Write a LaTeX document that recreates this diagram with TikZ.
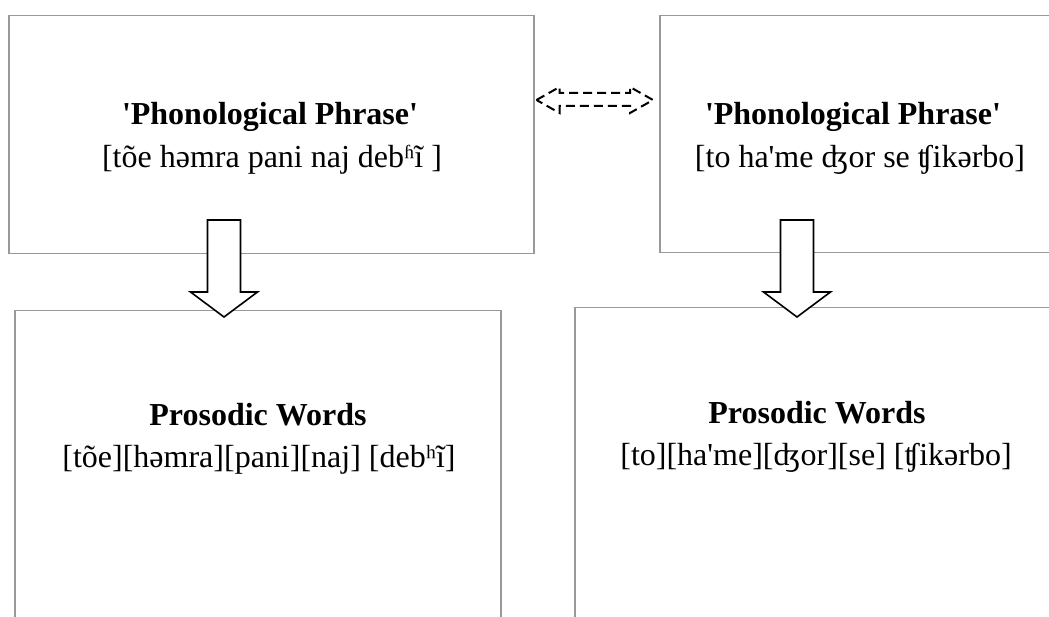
\documentclass[tikz,border=0pt]{standalone}
\usepackage{fontspec}
\setmainfont{Liberation Serif}[Ligatures=TeXOff]
\usetikzlibrary{calc}
\begin{document}
\begin{tikzpicture}[x=1pt,y=-1pt,
  frame/.style={draw=black!40,line width=1.5pt,fill=none,inner sep=0pt,
                anchor=north west},
  head/.style={anchor=base,font=\fontsize{32}{40}\selectfont\bfseries,inner sep=0pt},
  body/.style={anchor=base,font=\fontsize{32}{40}\selectfont,inner sep=0pt},
  blockarrow/.style={draw=black,fill=white,line width=1.6pt,line join=miter},
  linkarrow/.style={draw=black,line width=2pt,dash pattern=on 9pt off 5pt},
  downarrow/.pic={
    % shaft 33 wide, head 67 wide, total length 97
    \path[blockarrow] (-16.5,0) -- (16.5,0) -- (16.5,72) -- (33.5,72)
      -- (0,97) -- (-33.5,72) -- (-16.5,72) -- cycle;
  }]
\useasboundingbox (0,0) rectangle (1049,617);
\clip (0,0) rectangle (1049,617);
\fill[white] (0,0) rectangle (1049,617);

% the four frames
\node[frame,minimum width=525pt,minimum height=238pt] (tl) at (8,15) {};
\node[frame,minimum width=392pt,minimum height=237pt] (tr) at (659,15) {};
\node[frame,minimum width=486pt,minimum height=330pt] (bl) at (14,310) {};
\node[frame,minimum width=484pt,minimum height=330pt] (br) at (574,307) {};

% texts
\node[head] (tlh) at (270,125) {'Phonological Phrase'};
\node[body] (tlb) at (272,168) {[tõe həmra pani naj debʱĩ ]};
\node[head] (trh) at (853,125) {'Phonological Phrase'};
\node[body] (trb) at (860,168) {[to ha'me ʤor se ʧikərbo]};
\node[head] (blh) at (258,425) {Prosodic Words};
\node[body] (blb) at (259,467) {[tõe][həmra][pani][naj] [debʰĩ]};
\node[head] (brh) at (817,423) {Prosodic Words};
\node[body] (brb) at (816,465) {[to][ha'me][ʤor][se] [ʧikərbo]};

% downward block arrows from phrase to words
\pic at (224,220) {downarrow};
\pic at (797,220) {downarrow};

% dashed two-headed link between the phrase frames
\coordinate (la) at ([xshift=2pt,yshift=-85pt]tl.north east);
\coordinate (ra) at ([xshift=-6pt,yshift=-85pt]tr.north west);
\path[linkarrow] (la) -- ++(23,-13) -- ++(0,6) -- ($(ra)+(-23,-7)$)
  -- ++(0,-6) -- (ra) -- ++(-23,13) -- ++(0,-7) -- ($(la)+(23,6)$)
  -- ++(0,7) -- cycle;
\end{tikzpicture}
\end{document}
